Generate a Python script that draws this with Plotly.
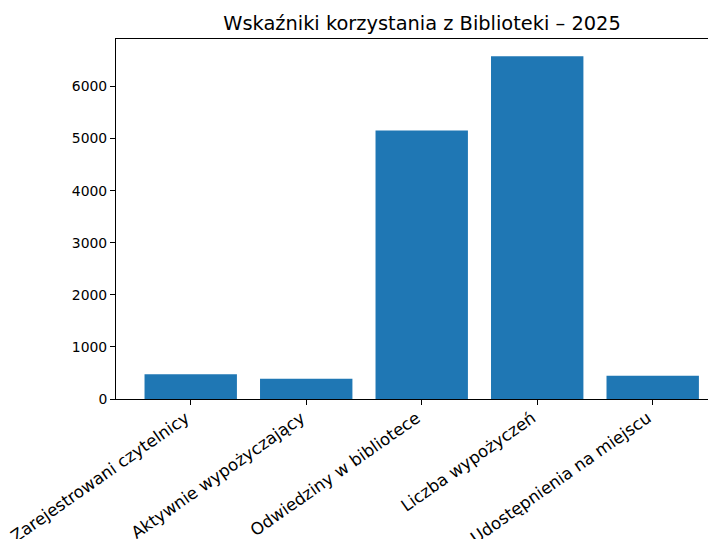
# Wskaźniki korzystania z Biblioteki - wykres słupkowy
import plotly.graph_objects as go

# Kategorie (oś X) i wartości
categories = [
    "Zarejestrowani czytelnicy",
    "Aktywnie wypożyczający",
    "Odwiedziny w bibliotece",
    "Liczba wypożyczeń",
    "Udostępnienia na miejscu",
]
values = [475, 390, 5155, 6582, 445]

y_ticks = [0, 1000, 2000, 3000, 4000, 5000, 6000]

font_family = "DejaVu Sans"

fig = go.Figure()

# Słupki w domyślnym niebieskim kolorze
fig.add_trace(go.Bar(
    x=list(range(len(categories))),
    y=values,
    marker=dict(color="#1f77b4", line=dict(width=0)),
    width=0.8,
))

# strona ma 8px marginesu, więc marginesy są o to pomniejszone
fig.update_layout(
    width=716,
    height=539,
    paper_bgcolor="white",
    plot_bgcolor="white",
    showlegend=False,
    margin=dict(l=108, r=8, t=31, b=148, autoexpand=False),
    font=dict(family=font_family, size=14, color="black"),
    title=dict(
        text="Wskaźniki korzystania z Biblioteki – 2025",
        x=0.51,
        xref="paper",
        xanchor="center",
        y=1 - 15 / 539,
        yref="container",
        yanchor="middle",
        font=dict(family=font_family, size=19.4, color="black"),
    ),
)

# Oś X - etykiety obrócone, jak w oryginale
fig.update_xaxes(
    range=[-0.647, 4.548],
    tickmode="array",
    tickvals=list(range(len(categories))),
    ticktext=categories,
    tickangle=-35,
    ticklabelshift=-5,
    ticklabelstandoff=-3,
    ticklabeloverflow="allow",
    ticks="outside",
    ticklen=5,
    tickwidth=1,
    tickcolor="black",
    showline=True,
    linecolor="black",
    linewidth=1,
    mirror=True,
    showgrid=False,
    zeroline=False,
    automargin=False,
    tickfont=dict(family=font_family, size=16.7, color="black"),
)

# Oś Y
fig.update_yaxes(
    range=[0, 6911],
    tickmode="array",
    tickvals=y_ticks,
    ticks="outside",
    ticklen=5,
    tickwidth=1,
    tickcolor="black",
    showline=True,
    linecolor="black",
    linewidth=1,
    showgrid=False,
    zeroline=False,
    automargin=False,
    tickfont=dict(family=font_family, size=13.9, color="black"),
)

fig.write_html("out.html")
